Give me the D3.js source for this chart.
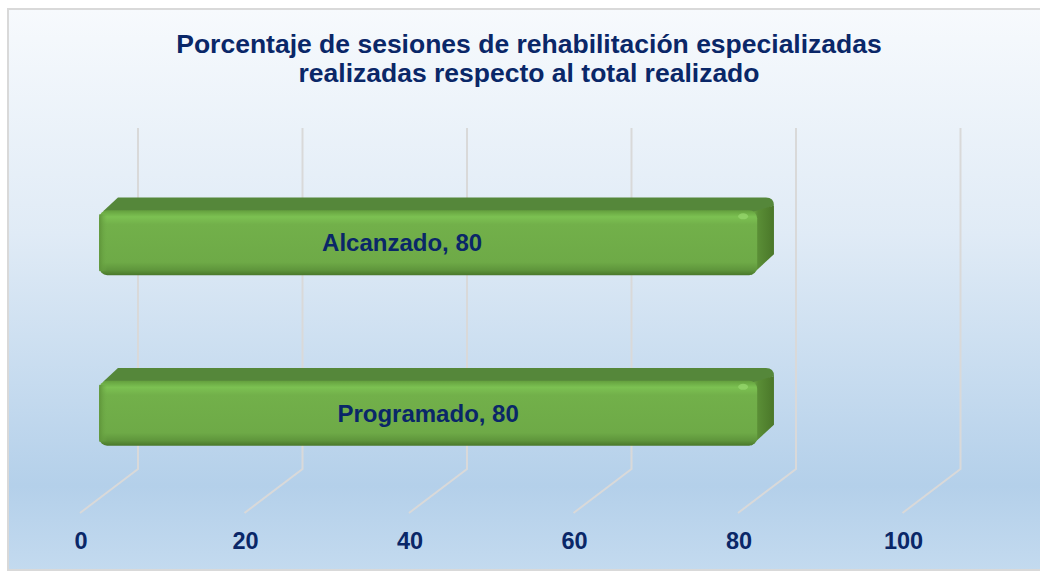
<!DOCTYPE html>
<html lang="es">
<head>
<meta charset="utf-8">
<title>Sesiones de rehabilitación</title>
<script src="https://d3js.org/d3.v7.min.js"></script>
<style>
body { margin: 0; background: #ffffff; }
text { font-family: "Liberation Sans", Arial, sans-serif; font-weight: bold; fill: #0a2768; }
.grid { stroke: #d9d9d9; stroke-width: 2; fill: none; }
</style>
</head>
<body>
<div id="container"></div>
<script>
// data
var titleLines = ["Porcentaje de sesiones de rehabilitación especializadas", "realizadas respecto al total realizado"];
var categories = ["Programado", "Alcanzado"];
var values = [80, 80];
var ticks = [0, 20, 40, 60, 80, 100];

var w = 1040, h = 572;
var svg = d3.select("#container").append("svg")
    .attr("width", w).attr("height", h);

var defs = svg.append("defs");
var bg = defs.append("linearGradient").attr("id", "bg").attr("x1", 0).attr("y1", 0).attr("x2", 0).attr("y2", 1);
bg.append("stop").attr("offset", "0%").attr("stop-color", "#f7fafd");
bg.append("stop").attr("offset", "40%").attr("stop-color", "#e0ebf6");
bg.append("stop").attr("offset", "85%").attr("stop-color", "#b4d0ea");
bg.append("stop").attr("offset", "100%").attr("stop-color", "#c3daef");

var front = defs.append("linearGradient").attr("id", "front").attr("x1", 0).attr("y1", 0).attr("x2", 0).attr("y2", 1);
front.append("stop").attr("offset", "0%").attr("stop-color", "#64a03e");
front.append("stop").attr("offset", "10%").attr("stop-color", "#7cc152");
front.append("stop").attr("offset", "22%").attr("stop-color", "#72b04a");
front.append("stop").attr("offset", "80%").attr("stop-color", "#6eaa47");
front.append("stop").attr("offset", "92%").attr("stop-color", "#5f963c");
front.append("stop").attr("offset", "100%").attr("stop-color", "#4a782b");

var leftEdge = defs.append("linearGradient").attr("id", "leftEdge").attr("x1", 0).attr("y1", 0).attr("x2", 1).attr("y2", 0);
leftEdge.append("stop").attr("offset", "0%").attr("stop-color", "#5e9439").attr("stop-opacity", 1);
leftEdge.append("stop").attr("offset", "100%").attr("stop-color", "#6eaa47").attr("stop-opacity", 0);

var side = defs.append("linearGradient").attr("id", "side").attr("x1", 0).attr("y1", 0).attr("x2", 1).attr("y2", 0);
side.append("stop").attr("offset", "0%").attr("stop-color", "#74b34b");
side.append("stop").attr("offset", "30%").attr("stop-color", "#5a8e36");
side.append("stop").attr("offset", "100%").attr("stop-color", "#4a7729");

// background and frame
svg.append("rect").attr("x", 8).attr("y", 9).attr("width", 1100).attr("height", 561)
    .attr("fill", "url(#bg)").attr("stroke", "#d9d9d9").attr("stroke-width", 2);

// title
svg.append("text").attr("x", 529).attr("y", 53).attr("text-anchor", "middle")
    .style("font-size", "26.5px")
    .selectAll("tspan").data(titleLines).enter().append("tspan")
    .attr("x", 529).attr("dy", function(d, i) { return i ? 29 : 0; })
    .text(function(d) { return d; });

// scales (front plane), plus depth offset for the 3D look
var x = d3.scaleLinear().domain([0, 100]).range([80, 902.5]);
var y = d3.scaleBand().domain(categories).range([513, 172]).paddingInner(0.62).paddingOuter(0.31);
var depthX = 58, depthY = 44;
function px(v, d) { return x(v) + d * depthX; }
function py(yy, d) { return yy - d * depthY; }

// gridlines: back wall verticals + floor diagonals
var grid = svg.append("g");
ticks.forEach(function(t) {
  grid.append("path").attr("class", "grid")
      .attr("d", "M" + px(t, 1) + "," + py(172, 1) + "L" + px(t, 1) + "," + py(513, 1) + "L" + px(t, 0) + "," + 513);
});

// axis labels
svg.append("g").selectAll("text").data(ticks).enter().append("text")
    .attr("x", function(d) { return x(d) + 1; })
    .attr("y", 549)
    .attr("text-anchor", "middle")
    .style("font-size", "23.5px")
    .text(function(d) { return d; });

// bars
var d1 = 0.33, d2 = 0.62, r = 8;
var labelNudge = { "Alcanzado": -26, "Programado": 0 };
var bars = svg.append("g").selectAll("g").data(categories).enter().append("g");

bars.each(function(c, i) {
  var g = d3.select(this);
  var v = values[i];
  var y0 = y(c), y1 = y(c) + y.bandwidth();
  var fx0 = px(0, d1), fx1 = px(v, d1), fy0 = py(y0, d1), fy1 = py(y1, d1);
  var bx0 = px(0, d2), bx1 = px(v, d2), by0 = py(y0, d2), by1 = py(y1, d2);

  // top face
  g.append("path")
      .attr("d", "M" + (fx0 + 4) + "," + (fy0 + 1) +
        "L" + (bx0 + 2) + "," + by0 +
        "L" + (bx1 - r) + "," + by0 +
        "Q" + bx1 + "," + by0 + " " + bx1 + "," + (by0 + r) +
        "L" + fx1 + "," + (fy0 + 2) + "Z")
      .attr("fill", "#55873a");
  // side face
  g.append("path")
      .attr("d", "M" + (fx1 - 6) + "," + (fy0 + 2) +
        "L" + bx1 + "," + (by0 + r) +
        "L" + bx1 + "," + (by1 - 8) +
        "L" + (fx1 - 6) + "," + fy1 + "Z")
      .attr("fill", "url(#side)");
  // front face
  g.append("rect")
      .attr("x", fx0).attr("y", fy0)
      .attr("width", fx1 - fx0).attr("height", fy1 - fy0)
      .attr("rx", r).attr("ry", r)
      .attr("fill", "url(#front)");
  g.append("rect")
      .attr("x", fx0).attr("y", fy0 + 4)
      .attr("width", 8).attr("height", fy1 - fy0 - 8)
      .attr("fill", "url(#leftEdge)");
  // small highlight at upper right corner
  g.append("ellipse").attr("cx", fx1 - 14).attr("cy", fy0 + 6).attr("rx", 5).attr("ry", 3)
      .attr("fill", "#93d46a").attr("opacity", 0.8);

  g.append("text")
      .attr("x", (fx0 + fx1) / 2 + labelNudge[c])
      .attr("y", (fy0 + fy1) / 2)
      .attr("dy", "0.36em")
      .attr("text-anchor", "middle")
      .style("font-size", "24px")
      .text(c + ", " + v);
});
</script>
</body>
</html>
